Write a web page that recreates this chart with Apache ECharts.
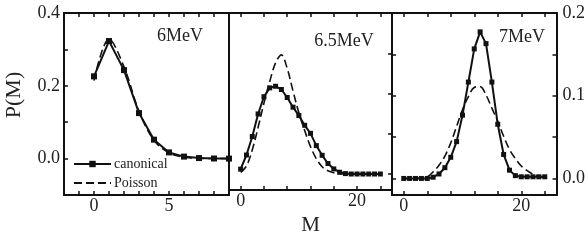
<!DOCTYPE html>
<html><head><meta charset="utf-8">
<script src="https://cdn.jsdelivr.net/npm/echarts@6/dist/echarts.min.js"></script>
<style>html,body{margin:0;padding:0;background:#fff}#c{width:588px;height:241px}</style>
</head><body><div id="c"></div>
<script>
// Multiplicities
const M6 = [0,1,2,3,4,5,6,7,8,9];
const M65 = [0,1,2,3,4,5,6,7,8,9,10,11,12,13,14,15,16,17,18,19,20,21,22,23,24];
const M7 = [0,1,2,3,4,5,6,7,8,9,10,11,12,13,14,15,16,17,18,19,20,21,22,23,24];
// 6 MeV
const canon6   = [0.226,0.323,0.243,0.125,0.052,0.017,0.0055,0.0015,0.0003,0];
const poisson6 = [0.214,0.328,0.252,0.130,0.050,0.016,0.004,0.001,0.0002,0];
// 6.5 MeV
const canon65   = [0.006,0.0236,0.0465,0.0746,0.096,0.107,0.109,0.105,0.095,0.083,0.0726,0.0605,0.0505,0.0353,0.0232,0.013,0.0063,0.0022,0.0005,0,0,0,0,0,0];
const poisson65 = [0.002,0.01,0.03,0.058,0.088,0.115,0.138,0.148,0.131,0.103,0.076,0.054,0.034,0.019,0.009,0.004,0.0015,0.0005,0,0,0,0,0,0,0];
// 7 MeV
const canon7   = [0,0,0,0,0,0.0015,0.0054,0.013,0.0256,0.0445,0.0765,0.1165,0.1566,0.1772,0.163,0.1165,0.0655,0.029,0.01,0.0034,0.002,0.002,0.002,0.002,0.002];
const poisson7 = [0,0,0,0.0005,0.002,0.008,0.016,0.027,0.043,0.063,0.083,0.099,0.110,0.111,0.101,0.085,0.069,0.051,0.035,0.024,0.015,0.0095,0.005,0.0025,0.001];
// Tick / label values
const xTicks1 = [-1,0,1,2,3,4,5,6,7,8];
const xLabels1 = [0,5];
const xTicks23 = [0,4,8,12,16,20,24];
const xLabels23 = [0,20];
const yTicks1 = [0,0.1,0.2,0.3,0.4];
const yLabels1 = [0,0.2,0.4];
const yTicks23 = [0,0.05,0.1,0.15,0.2];
const yLabels23 = [0,0.1,0.2];
const panelTitles = ['6MeV','6.5MeV','7MeV'];

const INK = '#111';
const FONT = 'Liberation Serif';
const pairs = (xs, ys) => xs.map((x, i) => [x, ys[i]]);

const grids = [
  {left: 64, top: 13, width: 165, height: 182},
  {left: 229, top: 13, width: 163, height: 182},
  {left: 392, top: 13, width: 165, height: 182}
];
const xRange = [[-2, 9], [-2, 26], [-2, 26]];
const yRange = [[-0.1, 0.4], [-0.02, 0.2], [-0.02, 0.2]];

const axisLine = {show: true, onZero: false, lineStyle: {color: INK, width: 2}};
const xAxes = [], yAxes = [];
for (let g = 0; g < 3; g++) {
  const ticks = g === 0 ? xTicks1 : xTicks23;
  const labs = g === 0 ? xLabels1 : xLabels23;
  ['bottom', 'top'].forEach(pos => {
    xAxes.push({
      gridIndex: g, type: 'value', position: pos, min: xRange[g][0], max: xRange[g][1],
      axisLine: axisLine, splitLine: {show: false},
      axisTick: {show: true, inside: true, length: 4, lineStyle: {color: INK, width: 1.5}, customValues: ticks},
      axisLabel: pos === 'bottom' ? {show: true, customValues: labs, fontFamily: FONT, fontSize: 18, color: '#222', margin: 2} : {show: false},
      name: (g === 1 && pos === 'bottom') ? 'M' : '',
      nameLocation: 'middle', nameGap: 22,
      nameTextStyle: {fontFamily: FONT, fontSize: 21, color: '#222'}
    });
  });
  const yt = g === 0 ? yTicks1 : yTicks23;
  const yl = g === 0 ? yLabels1 : yLabels23;
  ['left', 'right'].forEach(pos => {
    let tickShow = false, labShow = false;
    if (g === 0 && pos === 'left') { tickShow = true; labShow = true; }
    if (g === 1 && pos === 'right') { tickShow = true; }
    if (g === 2) { tickShow = true; labShow = pos === 'right'; }
    yAxes.push({
      gridIndex: g, type: 'value', position: pos, min: yRange[g][0], max: yRange[g][1],
      axisLine: axisLine, splitLine: {show: false},
      axisTick: {show: tickShow, inside: true, length: 4, lineStyle: {color: INK, width: 1.5}, customValues: yt},
      axisLabel: {show: labShow, customValues: yl, formatter: v => v.toFixed(1), fontFamily: FONT, fontSize: 18, color: '#222', margin: pos === 'left' ? 4 : 6}
    });
  });
}

function canonSeries(g, xs, ys, size) {
  return {
    name: 'canonical', type: 'line', xAxisIndex: g * 2, yAxisIndex: g * 2,
    data: pairs(xs, ys), clip: false, symbol: 'rect', symbolSize: size,
    lineStyle: {color: INK, width: 2}, itemStyle: {color: INK}, z: 3
  };
}
function poissonSeries(g, xs, ys) {
  return {
    name: 'Poisson', type: 'line', xAxisIndex: g * 2, yAxisIndex: g * 2,
    data: pairs(xs, ys), clip: false, symbol: 'none', smooth: 0.35,
    lineStyle: {color: INK, width: 1.6, type: [8, 4]}, itemStyle: {color: INK}, z: 2
  };
}

const option = {
  animation: false,
  backgroundColor: '#fff',
  grid: grids,
  xAxis: xAxes,
  yAxis: yAxes,
  legend: {
    orient: 'vertical', left: 73, top: 157, padding: 0, itemWidth: 37, itemHeight: 8, itemGap: 5,
    textStyle: {fontFamily: FONT, fontSize: 14, color: '#222', padding: [0, 0, 0, -2]},
    data: [{name: 'canonical'}, {name: 'Poisson', itemStyle: {opacity: 0}}]
  },
  graphic: [
    {type: 'text', x: 180, y: 36, style: {text: panelTitles[0], font: '18px "Liberation Serif"', fill: '#222', align: 'center', verticalAlign: 'middle'}},
    {type: 'text', x: 344, y: 41, style: {text: panelTitles[1], font: '18px "Liberation Serif"', fill: '#222', align: 'center', verticalAlign: 'middle'}},
    {type: 'text', x: 522, y: 37, style: {text: panelTitles[2], font: '18px "Liberation Serif"', fill: '#222', align: 'center', verticalAlign: 'middle'}},
    {type: 'text', x: 14, y: 95, rotation: Math.PI / 2, style: {text: 'P(M)', font: '22px "Liberation Serif"', fill: '#222', align: 'center', verticalAlign: 'middle'}}
  ],
  series: [
    poissonSeries(0, M6, poisson6),
    canonSeries(0, M6, canon6, 6),
    poissonSeries(1, M65, poisson65),
    canonSeries(1, M65, canon65, 5),
    poissonSeries(2, M7, poisson7),
    canonSeries(2, M7, canon7, 5)
  ]
};
const chart = echarts.init(document.getElementById('c'), null, {renderer: 'canvas'});
chart.setOption(option);
</script></body></html>
